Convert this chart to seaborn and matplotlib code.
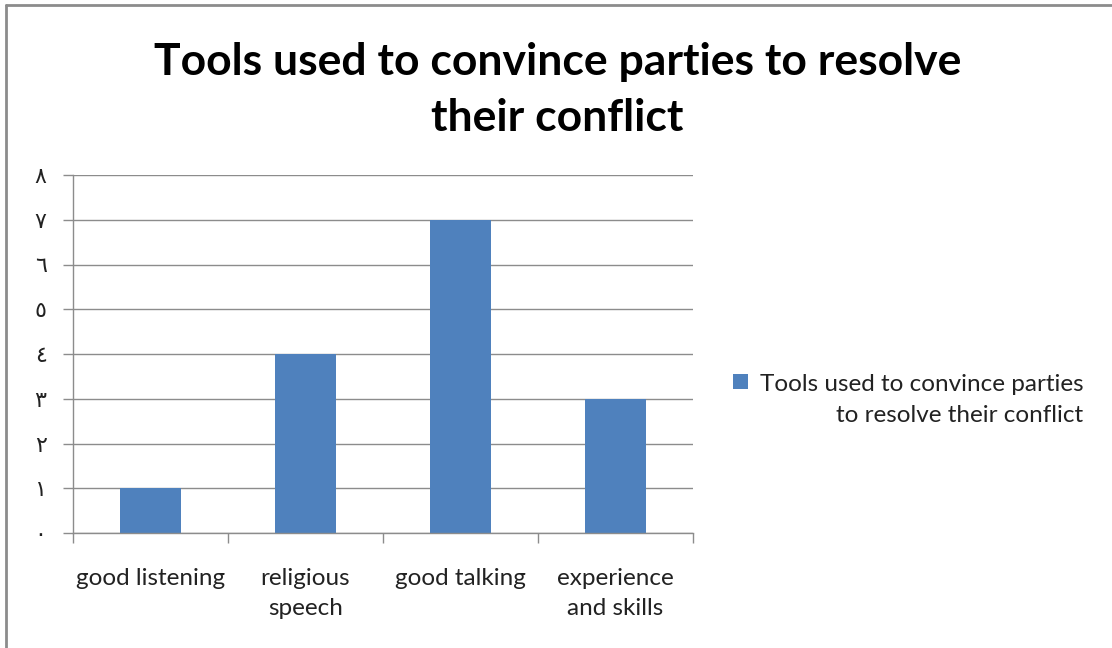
import matplotlib
matplotlib.use("Agg")
import matplotlib.pyplot as plt
import seaborn as sns
import pandas as pd
from matplotlib.lines import Line2D

categories = ["good listening", "religious\nspeech", "good talking", "experience\nand skills"]
values = [1, 4, 7, 3]
y_ticks = [0, 1, 2, 3, 4, 5, 6, 7, 8]
y_tick_labels = ["٠", "١", "٢", "٣", "٤", "٥", "٦", "٧", "٨"]
title = "Tools used to convince parties to resolve\ntheir conflict"
series_label = "Tools used to convince parties\nto resolve their conflict"

sns.set_theme(style="white")
plt.rcParams['font.family'] = ['Lato', 'DejaVu Sans']

df = pd.DataFrame({"category": categories, "value": values})

fig = plt.figure(figsize=(11.12, 6.48), dpi=100)
ax = fig.add_axes([73/1112, 1-533/648, (693-73)/1112, (533-175)/648])

sns.barplot(data=df, x="category", y="value", color="#4F81BD", width=0.39,
            saturation=1, ax=ax, label=series_label, edgecolor="none")

ax.set_xlim(-0.5, len(categories) - 0.5)
ax.set_ylim(0, 8)
ax.set_yticks(y_ticks)
ax.set_yticklabels(y_tick_labels, family=['DejaVu Sans'], fontsize=16, color="#222222")
ax.set_xlabel("")
ax.set_ylabel("")
ax.grid(axis="y", color="#8c8c8c", linewidth=1)
ax.set_axisbelow(True)
for s in ["top", "right"]:
    ax.spines[s].set_visible(False)
for s in ["left", "bottom"]:
    ax.spines[s].set_color("#8c8c8c")
    ax.spines[s].set_linewidth(1)

ax.tick_params(axis="y", which="major", length=7, width=1, color="#8c8c8c", pad=12, left=True)
ax.set_xticks([i - 0.5 for i in range(len(categories) + 1)], minor=True)
ax.tick_params(axis="x", which="minor", length=7, width=1, color="#8c8c8c", bottom=True)
ax.tick_params(axis="x", which="major", length=0, pad=25, labelsize=17.5, labelcolor="#222222")
ax.set_xticklabels(categories, linespacing=1.55)

fig.suptitle(title, x=0.5015, y=1-42/648, fontsize=32, fontweight="bold", va="top",
             linespacing=1.48, color="black")

leg = ax.legend(loc="upper left", bbox_to_anchor=(733/1112, 1-374/648), bbox_transform=fig.transFigure,
                frameon=False, fontsize=17.5, handlelength=0.6, handleheight=0.6,
                handletextpad=0.5, borderpad=0, borderaxespad=0)
for t in leg.get_texts():
    t.set_multialignment("right")
    t.set_linespacing(1.6)
    t.set_color("#222222")
for col in leg._legend_handle_box.get_children():
    for item in col.get_children():
        item.align = "top"

fig.add_artist(Line2D([6/1112, 1], [1-5/648, 1-5/648], transform=fig.transFigure,
                      color="#8c8c8c", linewidth=2))
fig.add_artist(Line2D([6/1112, 6/1112], [0, 1-5/648], transform=fig.transFigure,
                      color="#8c8c8c", linewidth=2))

fig.savefig("out.png", dpi=100)
